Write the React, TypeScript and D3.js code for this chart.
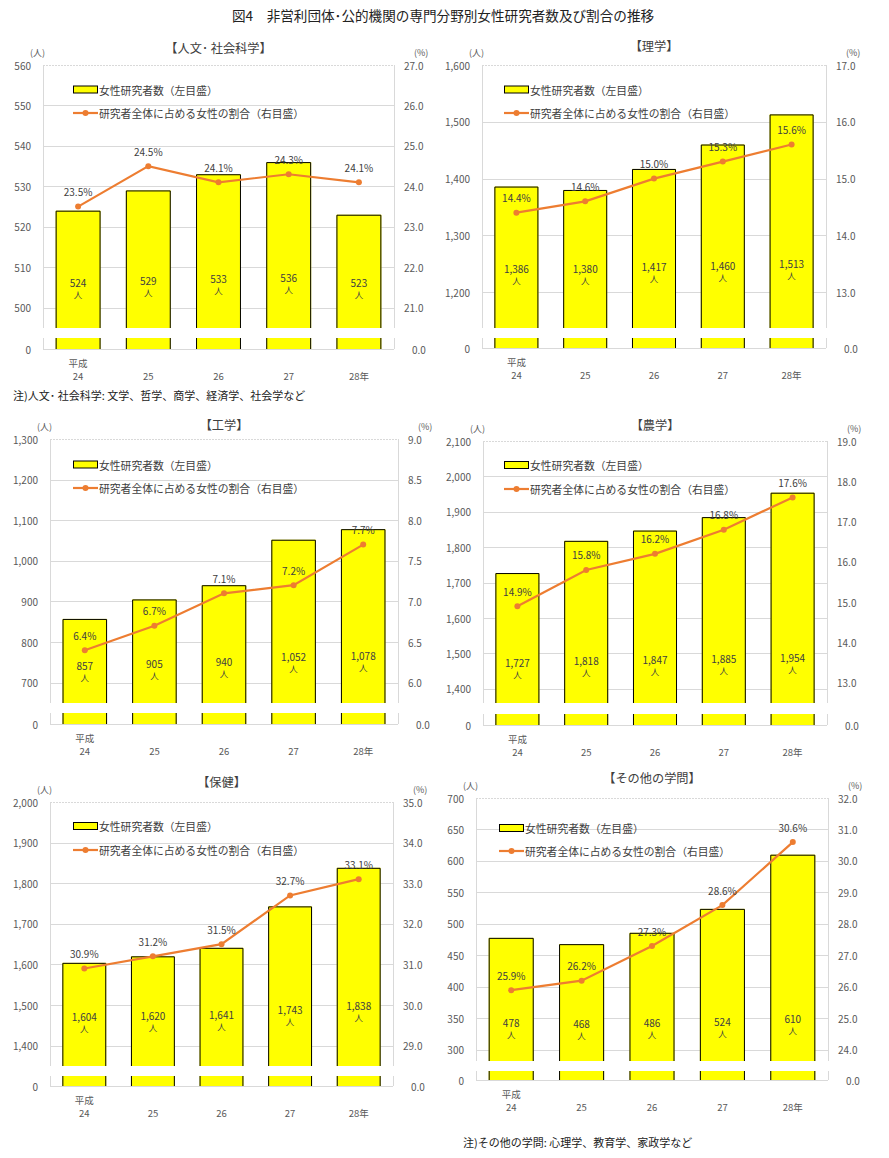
import React from 'react';
import * as d3 from 'd3';

const years = ['24', '25', '26', '27', '28年'];

const humCounts = [524, 529, 533, 536, 523];
const humPct = [23.5, 24.5, 24.1, 24.3, 24.1];
const sciCounts = [1386, 1380, 1417, 1460, 1513];
const sciPct = [14.4, 14.6, 15.0, 15.3, 15.6];
const engCounts = [857, 905, 940, 1052, 1078];
const engPct = [6.4, 6.7, 7.1, 7.2, 7.7];
const agrCounts = [1727, 1818, 1847, 1885, 1954];
const agrPct = [14.9, 15.8, 16.2, 16.8, 17.6];
const hltCounts = [1604, 1620, 1641, 1743, 1838];
const hltPct = [30.9, 31.2, 31.5, 32.7, 33.1];
const othCounts = [478, 468, 486, 524, 610];
const othPct = [25.9, 26.2, 27.3, 28.6, 30.6];

const humLeftTicks = [500, 510, 520, 530, 540, 550, 560];
const humRightTicks = [21, 22, 23, 24, 25, 26, 27];
const sciLeftTicks = [1200, 1300, 1400, 1500, 1600];
const sciRightTicks = [13, 14, 15, 16, 17];
const engLeftTicks = [700, 800, 900, 1000, 1100, 1200, 1300];
const engRightTicks = [6.0, 6.5, 7.0, 7.5, 8.0, 8.5, 9.0];
const agrLeftTicks = [1400, 1500, 1600, 1700, 1800, 1900, 2000, 2100];
const agrRightTicks = [13, 14, 15, 16, 17, 18, 19];
const hltLeftTicks = [1400, 1500, 1600, 1700, 1800, 1900, 2000];
const hltRightTicks = [29, 30, 31, 32, 33, 34, 35];
const othLeftTicks = [300, 350, 400, 450, 500, 550, 600, 650, 700];
const othRightTicks = [24, 25, 26, 27, 28, 29, 30, 31, 32];

const titles = ['【人文･ 社会科学】', '【理学】', '【工学】', '【農学】', '【保健】', '【その他の学問】'];

const FONT = '"Noto Sans CJK JP", "Noto Sans", sans-serif';
const GRID = '#d9d9d9';
const TXT = '#404040';
const AX = '#595959';

type Cfg = {
  left: number; right: number; top: number; breakY: number; stripTop: number; stripBottom: number;
  lDom: [number, number]; rDom: [number, number];
  legDx: number; legDy1: number; legDy2: number;
  lblC: number; lblS: number; titleY: number;
};

const layouts: Cfg[] = [
  { left: 43, right: 394, top: 65, breakY: 328, stripTop: 338, stripBottom: 349, lDom: [495, 560], rDom: [20.5, 27], legDx: 30, legDy1: 24.5, legDy2: 48, lblC: 34, lblS: 0.1, titleY: 48 },
  { left: 482, right: 826, top: 65, breakY: 328, stripTop: 338, stripBottom: 348, lDom: [1137, 1600], rDom: [12.37, 17], legDx: 22, legDy1: 24.5, legDy2: 48, lblC: 50, lblS: 0.07, titleY: 46 },
  { left: 50, right: 398, top: 439, breakY: 703, stripTop: 713, stripBottom: 724, lDom: [650, 1300], rDom: [5.75, 9], legDx: 23, legDy1: 25.5, legDy2: 49, lblC: 27, lblS: 0.12, titleY: 425 },
  { left: 483, right: 827, top: 441, breakY: 703, stripTop: 714, stripBottom: 725, lDom: [1360, 2100], rDom: [12.5, 19], legDx: 21, legDy1: 24, legDy2: 48, lblC: 33, lblS: 0.06, titleY: 425 },
  { left: 50, right: 393, top: 802, breakY: 1066, stripTop: 1076, stripBottom: 1086, lDom: [1350, 2000], rDom: [28.5, 35], legDx: 23, legDy1: 24, legDy2: 48, lblC: 37, lblS: 0.12, titleY: 782 },
  { left: 476, right: 828, top: 798, breakY: 1061, stripTop: 1071, stripBottom: 1080, lDom: [282.5, 700], rDom: [23.65, 32], legDx: 23, legDy1: 30, legDy2: 53, lblC: 32, lblS: 0.05, titleY: 778 },
];

function Panel({ cfg, title, counts, pcts, lTicks, rTicks, rFmt }: {
  cfg: Cfg; title: string; counts: number[]; pcts: number[]; lTicks: number[]; rTicks: number[]; rFmt: (v: number) => string;
}) {
  const { left, right, top, breakY, stripTop, stripBottom } = cfg;
  const x = d3.scaleBand<string>().domain(years).range([left, right]).paddingInner(0.36).paddingOuter(0.18);
  const yL = d3.scaleLinear().domain(cfg.lDom).range([breakY, top]);
  const yR = d3.scaleLinear().domain(cfg.rDom).range([breakY, top]);
  const bw = x.bandwidth();
  const fmtL = d3.format(',');
  const line = d3.line<number>()
    .x((_, i) => (x(years[i]) as number) + bw / 2)
    .y((d) => yR(d));
  const cx = (left + right) / 2;
  const legX = left + cfg.legDx;
  return (
    <g fontFamily={FONT}>
      <text x={cx} y={cfg.titleY} textAnchor="middle" dominantBaseline="central" fontSize={12.2} fill={TXT}>{title}</text>
      <text x={left - 13} y={top - 13} textAnchor="start" dominantBaseline="central" fontSize={9} fill={AX}>(人)</text>
      <text x={right + 20} y={top - 13} textAnchor="start" dominantBaseline="central" fontSize={9} fill={AX}>(%)</text>
      {/* grid */}
      {lTicks.map((t) => (
        <line key={'g' + t} x1={left} x2={right} y1={Math.round(yL(t)) + 0.5} y2={Math.round(yL(t)) + 0.5}
          stroke={GRID} strokeWidth={1} strokeDasharray={t === cfg.lDom[1] ? '2,1' : undefined} />
      ))}
      <line x1={left + 0.5} x2={left + 0.5} y1={top} y2={breakY} stroke={GRID} />
      <line x1={right + 0.5} x2={right + 0.5} y1={top} y2={breakY} stroke={GRID} />
      <line x1={left + 0.5} x2={left + 0.5} y1={stripTop} y2={stripBottom} stroke={GRID} />
      <line x1={right + 0.5} x2={right + 0.5} y1={stripTop} y2={stripBottom} stroke={GRID} />
      <line x1={left} x2={right} y1={stripBottom + 0.5} y2={stripBottom + 0.5} stroke={GRID} />
      {/* left ticks */}
      {lTicks.map((t) => (
        <text key={'l' + t} x={left - 12} y={yL(t)} textAnchor="end" dominantBaseline="central" fontSize={10} fill={AX}>{fmtL(t)}</text>
      ))}
      <text x={left - 12} y={stripBottom} textAnchor="end" dominantBaseline="central" fontSize={10} fill={AX}>0</text>
      {rTicks.map((t) => (
        <text key={'r' + t} x={right + 10} y={yR(t)} textAnchor="start" dominantBaseline="central" fontSize={10} fill={AX}>{rFmt(t)}</text>
      ))}
      <text x={right + 18} y={stripBottom} textAnchor="start" dominantBaseline="central" fontSize={10} fill={AX}>0.0</text>
      {/* bars */}
      {counts.map((v, i) => {
        const bx = x(years[i]) as number;
        const yt = yL(v);
        return (
          <g key={'b' + i}>
            <rect x={bx} y={yt} width={bw} height={breakY - yt} fill="#ffff00" />
            <path d={`M${bx + 0.5},${breakY}V${yt + 0.5}H${bx + bw - 0.5}V${breakY}`} fill="none" stroke="#000" strokeWidth={1} />
            <rect x={bx} y={stripTop} width={bw} height={stripBottom - stripTop} fill="#ffff00" />
            <path d={`M${bx + 0.5},${stripTop}V${stripBottom}M${bx + bw - 0.5},${stripTop}V${stripBottom}`} stroke="#000" strokeWidth={1} />
          </g>
        );
      })}
      {/* count labels */}
      {counts.map((v, i) => {
        const bx = (x(years[i]) as number) + bw / 2;
        const yt = yL(v);
        const ly = breakY - cfg.lblC - cfg.lblS * (breakY - yt);
        return (
          <g key={'cl' + i}>
            <text x={bx} y={ly} textAnchor="middle" dominantBaseline="central" fontSize={10} fill={TXT}>{fmtL(v)}</text>
            <text x={bx} y={ly + 11.5} textAnchor="middle" dominantBaseline="central" fontSize={8.5} fill={TXT}>人</text>
          </g>
        );
      })}
      {/* line */}
      <path d={line(pcts) as string} fill="none" stroke="#ed7d31" strokeWidth={2.2} />
      {pcts.map((p, i) => (
        <circle key={'c' + i} cx={(x(years[i]) as number) + bw / 2} cy={yR(p)} r={3} fill="#ed7d31" />
      ))}
      {pcts.map((p, i) => (
        <text key={'pl' + i} x={(x(years[i]) as number) + bw / 2} y={yR(p) - 15} textAnchor="middle" dominantBaseline="central" fontSize={10} fill={TXT}>{p.toFixed(1) + '%'}</text>
      ))}
      {/* x labels */}
      {years.map((yr, i) => (
        <text key={'x' + i} x={(x(yr) as number) + bw / 2} y={stripBottom + 27} textAnchor="middle" dominantBaseline="central" fontSize={9.5} fill={AX}>{yr}</text>
      ))}
      <text x={(x(years[0]) as number) + bw / 2} y={stripBottom + 13.5} textAnchor="middle" dominantBaseline="central" fontSize={9.5} fill={AX}>平成</text>
      {/* legend */}
      <rect x={legX + 0.5} y={top + cfg.legDy1 - 3.5} width={24} height={7} fill="#ffff00" stroke="#000" strokeWidth={1} />
      <text x={legX + 26} y={top + cfg.legDy1} dominantBaseline="central" fontSize={10.8} fill={TXT}>女性研究者数（左目盛）</text>
      <line x1={legX} x2={legX + 25} y1={top + cfg.legDy2} y2={top + cfg.legDy2} stroke="#ed7d31" strokeWidth={2.2} />
      <circle cx={legX + 12.5} cy={top + cfg.legDy2} r={3} fill="#ed7d31" />
      <text x={legX + 26} y={top + cfg.legDy2} dominantBaseline="central" fontSize={10.8} fill={TXT}>研究者全体に占める女性の割合（右目盛）</text>
    </g>
  );
}

export default function App() {
  const f1 = d3.format('.1f');
  const panels = [
    { counts: humCounts, pcts: humPct, l: humLeftTicks, r: humRightTicks },
    { counts: sciCounts, pcts: sciPct, l: sciLeftTicks, r: sciRightTicks },
    { counts: engCounts, pcts: engPct, l: engLeftTicks, r: engRightTicks },
    { counts: agrCounts, pcts: agrPct, l: agrLeftTicks, r: agrRightTicks },
    { counts: hltCounts, pcts: hltPct, l: hltLeftTicks, r: hltRightTicks },
    { counts: othCounts, pcts: othPct, l: othLeftTicks, r: othRightTicks },
  ];
  return (
    <svg width={889} height={1158} style={{ position: 'absolute', left: 0, top: 0, background: '#fff' }}>
      <rect x={0} y={0} width={889} height={1158} fill="#fff" />
      <text x={443} y={15} textAnchor="middle" dominantBaseline="central" fontFamily={FONT} fontSize={13.6} fill="#222">
        図4　非営利団体･公的機関の専門分野別女性研究者数及び割合の推移
      </text>
      {panels.map((p, i) => (
        <Panel key={i} cfg={layouts[i]} title={titles[i]} counts={p.counts} pcts={p.pcts} lTicks={p.l} rTicks={p.r} rFmt={f1} />
      ))}
      <text x={13} y={395} dominantBaseline="central" fontFamily={FONT} fontSize={11} fill="#222">注)人文･ 社会科学: 文学、哲学、商学、経済学、社会学など</text>
      <text x={463} y={1142} dominantBaseline="central" fontFamily={FONT} fontSize={11} fill="#222">注)その他の学問: 心理学、教育学、家政学など</text>
    </svg>
  );
}
